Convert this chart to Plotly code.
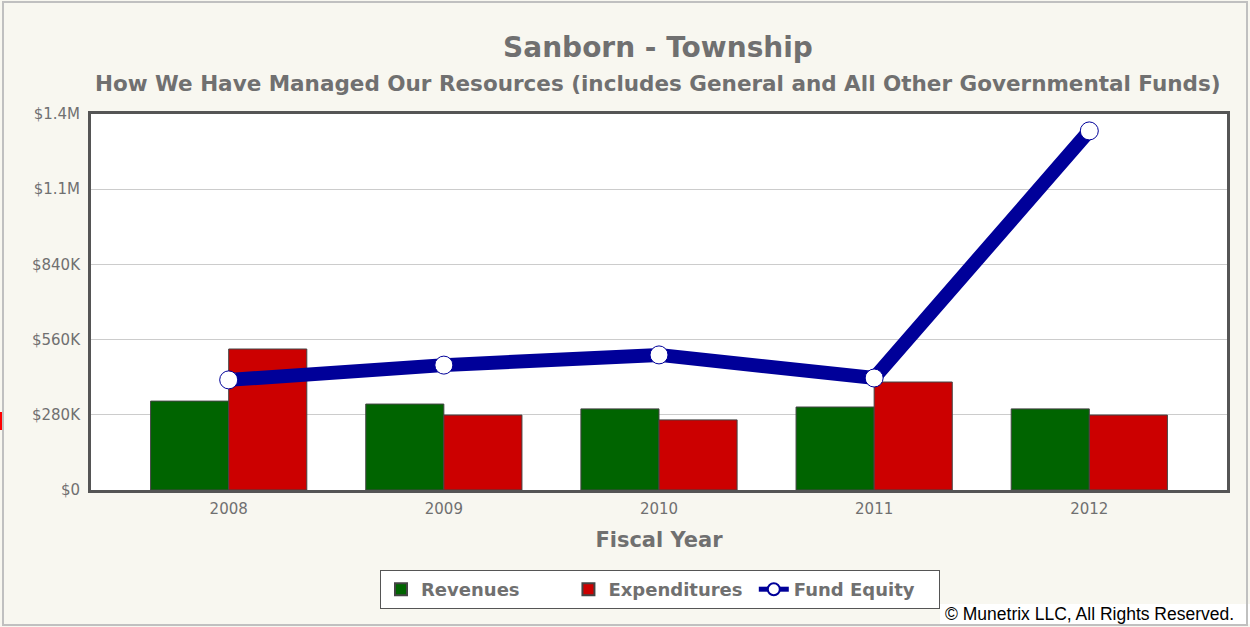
import plotly.graph_objects as go

years = ["2008", "2009", "2010", "2011", "2012"]
revenues = [331000, 320000, 302000, 309000, 302000]
expenditures = [525000, 279000, 261000, 402000, 279000]
fund_equity = [410000, 465000, 503000, 417000, 1337000]
tick_vals = [0, 280000, 560000, 840000, 1120000, 1400000]
tick_text = ["$0", "$280K", "$560K", "$840K", "$1.1M", "$1.4M"]

W, H = 1250, 627
L, R, T, B = 91, 23, 114, 137
pw, ph = W - L - R, H - T - B

def px(x):
    return (x - L) / pw

def py(y):
    return (H - B - y) / ph

GRAY = "#707070"
FONT = "DejaVu Sans"
NB = "\u00a0"

fig = go.Figure()
fig.add_trace(go.Bar(x=years, y=revenues, name="Revenues" + NB * 7,
                     marker=dict(color="#006400", line=dict(color="#444", width=1))))
fig.add_trace(go.Bar(x=years, y=expenditures, name="Expenditures" + NB,
                     marker=dict(color="#cc0000", line=dict(color="#444", width=1))))
fig.add_trace(go.Scatter(x=years, y=fund_equity, name="Fund Equity", mode="lines+markers",
                         showlegend=False,
                         line=dict(color="#000099", width=14),
                         marker=dict(size=18, color="white", line=dict(color="#000099", width=1))))
# legend entry only (thin line icon like the reference)
fig.add_trace(go.Scatter(x=[None], y=[None], name="Fund Equity" + NB * 3, mode="lines+markers",
                         line=dict(color="#000099", width=1.5),
                         marker=dict(size=8, color="white", line=dict(color="#000099", width=1.5))))

fig.update_layout(
    width=W, height=H,
    margin=dict(l=L, r=R, t=T, b=B),
    paper_bgcolor="#f8f7f0", plot_bgcolor="white",
    barmode="group", bargap=0.274, bargroupgap=0,
    showlegend=True,
    legend=dict(orientation="h", x=px(660), xanchor="center", y=py(570), yanchor="top",
                bgcolor="white", bordercolor="#555", borderwidth=1,
                font=dict(family=FONT, size=18, color=GRAY, weight="bold"),
                itemsizing="constant", traceorder="normal", itemwidth=30, tracegroupgap=0),
    title=dict(text="<b>Sanborn - Township</b>", x=px(658), xref="paper", xanchor="center",
               y=1 - 47 / H, yanchor="middle",
               font=dict(family=FONT, size=28, color=GRAY)),
    hovermode=False,
)
fig.add_annotation(text="<b>How We Have Managed Our Resources (includes General and All Other Governmental Funds)</b>",
                   xref="paper", yref="paper", x=px(658), y=py(83), xanchor="center", yanchor="middle",
                   showarrow=False, font=dict(family=FONT, size=21.5, color=GRAY))
fig.add_shape(type="rect", xref="paper", yref="paper",
              x0=px(940), x1=px(1250), y0=py(624), y1=py(604),
              line=dict(width=0), fillcolor="white", layer="below")
fig.add_annotation(text="© Munetrix LLC, All Rights Reserved.", xref="paper", yref="paper",
                   x=px(1236), y=py(614), xanchor="right", yanchor="middle", showarrow=False,
                   font=dict(family="Liberation Sans", size=17.5, color="black"))

fig.update_xaxes(range=[-0.64, 4.64], showline=True, mirror=True, linewidth=3, linecolor="#555",
                 ticks="", tickfont=dict(family=FONT, size=15, color=GRAY), ticklabelstandoff=3,
                 title=dict(text="<b>Fiscal Year</b>", font=dict(family=FONT, size=21, color=GRAY), standoff=16))
fig.update_yaxes(range=[0, 1400000], tickvals=tick_vals, ticktext=tick_text,
                 showline=True, mirror=True, linewidth=3, linecolor="#555",
                 gridcolor="#cccccc", gridwidth=1, zeroline=False,
                 tickfont=dict(family=FONT, size=15, color=GRAY), ticks="", ticklabelstandoff=5)

fig.add_shape(type="rect", xref="paper", yref="paper",
              x0=px(3), x1=px(1247), y0=py(625), y1=py(2),
              line=dict(color="#c0c0c0", width=2), fillcolor="rgba(0,0,0,0)", layer="below")
fig.add_shape(type="line", xref="paper", yref="paper", x0=px(1), x1=px(1), y0=py(412), y1=py(430),
              line=dict(color="red", width=2))

fig.write_html("out.html", config={"displayModeBar": False},
               post_script="document.body.style.margin='0';document.body.style.overflow='hidden';")
